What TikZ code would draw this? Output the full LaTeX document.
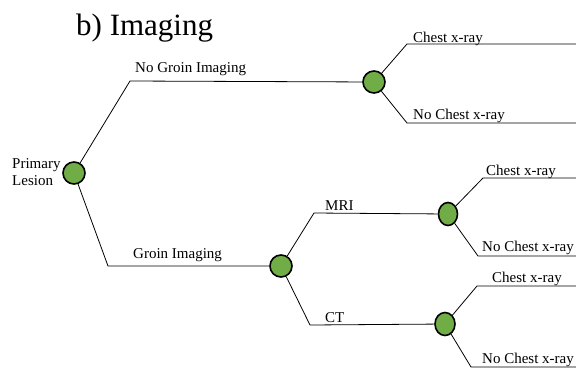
\documentclass[tikz,border=0pt]{standalone}
\usepackage{fontspec}
\setmainfont{Liberation Serif}
\usetikzlibrary{shapes.geometric}
\definecolor{chancegreen}{HTML}{70AD47}
\begin{document}
\begin{tikzpicture}[x=1pt,y=-1pt,
  chance/.style={circle,draw=black,line width=1.6pt,fill=chancegreen,inner sep=0pt,minimum size=22pt},
  smallchance/.style={ellipse,draw=black,line width=1.6pt,fill=chancegreen,inner sep=0pt,minimum width=19pt,minimum height=23pt},
  branch/.style={draw=black,line width=0.8pt},
  lbl/.style={font=\fontsize{15}{17}\selectfont,anchor=base west,inner sep=0pt},
]
\useasboundingbox (0,0) rectangle (576,368);
\node[anchor=base west,inner sep=0pt,font=\fontsize{31}{34}\selectfont] (title) at (76,35) {b) Imaging};
% nodes
\node[chance] (p) at (74,173) {};
\node[lbl,align=left] (plbl) at (12,185) {Primary\\Lesion};
\node[chance] (n2) at (374,82) {};
\node[chance] (g) at (281,266) {};
\node[smallchance] (m) at (448,214) {};
\node[smallchance,minimum width=20pt] (c) at (445,324) {};
% corners
\coordinate (c1) at (130,81);
\coordinate (c2) at (108,266);
\coordinate (u1) at (407,44);
\coordinate (u1e) at (576,44);
\coordinate (d1) at (407,123);
\coordinate (d1e) at (576,123);
\coordinate (gm) at (314,213);
\coordinate (gc) at (310,325);
\coordinate (mu) at (483,178);
\coordinate (mue) at (576,178);
\coordinate (md) at (478,256);
\coordinate (mde) at (576,256);
\coordinate (cu) at (477,286);
\coordinate (cue) at (576,286);
\coordinate (cd) at (471,367);
\coordinate (cde) at (576,367);
% connectors
\draw[branch] (p) -- (c1) -- (n2);
\draw[branch] (p) -- (c2) -- (g);
\draw[branch] (n2) -- (u1) -- (u1e);
\draw[branch] (n2) -- (d1) -- (d1e);
\draw[branch] (g) -- (gm) -- (m);
\draw[branch] (g) -- (gc) -- (c);
\draw[branch] (m) -- (mu) -- (mue);
\draw[branch] (m) -- (md) -- (mde);
\draw[branch] (c) -- (cu) -- (cue);
\draw[branch] (c) -- (cd) -- (cde);
% labels
\node[lbl] (l1) at (135,72) {No Groin Imaging};
\node[lbl] (l2) at (133,258) {Groin Imaging};
\node[lbl] (l3) at (413,42) {Chest x-ray};
\node[lbl] (l4) at (413,119) {No Chest x-ray};
\node[lbl] (l5) at (325,210) {MRI};
\node[lbl] (l6) at (325,322) {CT};
\node[lbl] (l7) at (486,175) {Chest x-ray};
\node[lbl] (l8) at (482,251) {No Chest x-ray};
\node[lbl] (l9) at (492,282) {Chest x-ray};
\node[lbl] (l10) at (482,363) {No Chest x-ray};
\end{tikzpicture}
\end{document}
